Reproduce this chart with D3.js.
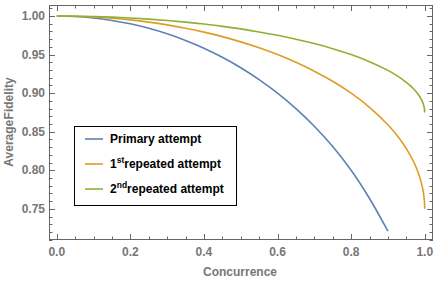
<!DOCTYPE html>
<html><head><meta charset="utf-8">
<script src="https://cdn.jsdelivr.net/npm/d3@7"></script>
<style>body{margin:0;background:#fff}</style>
</head><body>
<svg id="c" width="438" height="282"></svg>
<script>
const concurrence = [0,0.05,0.1,0.15,0.2,0.25,0.3,0.35,0.4,0.45,0.5,0.55,0.6,0.65,0.7,0.75,0.8,0.85,0.9,0.92,0.94,0.96,0.97,0.98,0.99,0.995,0.999,1];
const primary = [1.0,0.9994,0.9975,0.9943,0.9899,0.9841,0.9770,0.9684,0.9583,0.9465,0.9330,0.9176,0.9000,0.8800,0.8571,0.8307,0.8000,0.7634,0.7210];
const repeated1 = [1.0,0.9997,0.9987,0.9972,0.9950,0.9921,0.9885,0.9842,0.9791,0.9733,0.9665,0.9588,0.9500,0.9400,0.9285,0.9154,0.9000,0.8817,0.8590,0.8480,0.8353,0.8200,0.8108,0.7998,0.7853,0.7750,0.7612,0.7500];
const repeated2 = [1.0,0.9998,0.9994,0.9986,0.9975,0.9960,0.9942,0.9921,0.9896,0.9866,0.9833,0.9794,0.9750,0.9700,0.9643,0.9577,0.9500,0.9408,0.9295,0.9240,0.9176,0.9100,0.9054,0.8999,0.8926,0.8875,0.8806,0.8750];
const seriesNames = ["Primary attempt","repeated attempt","repeated attempt"];
const seriesSup = ["","st","nd"];
const seriesPre = ["","1","2"];
const colors = ["#5E81B5","#E19C24","#8FB032"];
const xTicks = [0,0.2,0.4,0.6,0.8,1.0];
const yTicks = [0.75,0.80,0.85,0.90,0.95,1.00];

const svg = d3.select("#c");
const L=49,R=433,T=5,B=240;
const x = d3.scaleLinear().domain([-0.021,1.0225]).range([L,R]);
const y = d3.scaleLinear().domain([0.7096,1.0143]).range([B,T]);
const axisCol="#666";

// frame
svg.append("rect").attr("x",L+0.5).attr("y",T+0.5).attr("width",R-L-1).attr("height",B-T-1)
  .attr("fill","none").attr("stroke",axisCol).attr("stroke-width",1);

// ticks
const xMinor = d3.range(0,1.0001,0.05);
const yMinor = d3.range(0.71,1.0101,0.01);
const tg = svg.append("g").attr("stroke",axisCol).attr("stroke-width",1);
xMinor.forEach(v=>{
  const major = xTicks.some(t=>Math.abs(t-v)<1e-6);
  const len = major?6:3.5;
  const px = Math.round(x(v))+0.5;
  tg.append("line").attr("x1",px).attr("x2",px).attr("y1",B).attr("y2",B-len);
  tg.append("line").attr("x1",px).attr("x2",px).attr("y1",T).attr("y2",T+len);
});
yMinor.forEach(v=>{
  const major = yTicks.some(t=>Math.abs(t-v)<1e-6);
  const len = major?6:3.5;
  const py = Math.round(y(v))+0.5;
  tg.append("line").attr("x1",L).attr("x2",L+len).attr("y1",py).attr("y2",py);
  tg.append("line").attr("x1",R).attr("x2",R-len).attr("y1",py).attr("y2",py);
});

const font = "'Liberation Sans', Arial, sans-serif";
svg.append("g").selectAll("text").data(xTicks).join("text")
  .attr("x",d=>x(d)).attr("y",256).attr("text-anchor","middle")
  .attr("font-family",font).attr("font-size",12).attr("font-weight","bold").attr("fill","#777")
  .text(d=>d3.format(".1f")(d));
svg.append("g").selectAll("text").data(yTicks).join("text")
  .attr("x",45).attr("y",d=>y(d)+4).attr("text-anchor","end")
  .attr("font-family",font).attr("font-size",12).attr("font-weight","bold").attr("fill","#777")
  .text(d=>d3.format(".2f")(d));

svg.append("text").attr("x",240).attr("y",276).attr("text-anchor","middle")
  .attr("font-family",font).attr("font-size",12).attr("font-weight","bold").attr("fill","#777")
  .text("Concurrence");
svg.append("text").attr("transform","translate(13,122) rotate(-90)").attr("text-anchor","middle")
  .attr("font-family",font).attr("font-size",12).attr("font-weight","bold").attr("fill","#777")
  .attr("word-spacing","-3px")
  .text("Average Fidelity");

// curves
const line = d3.line().x(d=>x(d[0])).y(d=>y(d[1])).curve(d3.curveCatmullRom.alpha(0.5));
[primary,repeated1,repeated2].forEach((s,i)=>{
  const pts = s.map((v,j)=>[concurrence[j],v]);
  svg.append("path").attr("d",line(pts)).attr("fill","none")
    .attr("stroke",colors[i]).attr("stroke-width",1.6);
});

// legend
const lg = svg.append("g");
lg.append("rect").attr("x",74.5).attr("y",126.5).attr("width",162).attr("height",79)
  .attr("fill","#fff").attr("stroke","#000").attr("stroke-width",1);
const rows=[139,164,189];
rows.forEach((ry,i)=>{
  lg.append("line").attr("x1",85).attr("x2",103).attr("y1",ry).attr("y2",ry)
    .attr("stroke",colors[i]).attr("stroke-width",1.6);
  const t = lg.append("text").attr("x",110).attr("y",ry+4)
    .attr("font-family",font).attr("font-size",12).attr("font-weight","bold").attr("fill","#000");
  if(seriesPre[i]){
    t.append("tspan").text(seriesPre[i]);
    t.append("tspan").attr("font-size",8.5).attr("dy",-5).text(seriesSup[i]);
    t.append("tspan").attr("dy",5).text(seriesNames[i]);
  } else t.text(seriesNames[i]);
});
</script>
</body></html>
